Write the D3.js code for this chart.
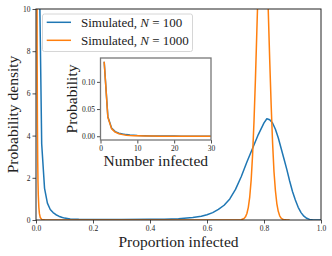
<!DOCTYPE html>
<html>
<head>
<meta charset="utf-8">
<script src="https://cdn.jsdelivr.net/npm/d3@7"></script>
<style>
  body { margin: 0; background: #fff; }
  svg { display: block; }
  text { font-family: "Liberation Serif", "DejaVu Serif", serif; fill: #222; }
</style>
</head>
<body>
<div id="chart"></div>
<script>
// ------------------------------------------------------------
// Data
// ------------------------------------------------------------
const seriesLabels = ["100", "1000"];
const seriesColors = ["#1f77b4", "#ff7f0e"];

// N = 100, proportion infected vs probability density
const blueX = [0.01, 0.02, 0.03, 0.04, 0.05, 0.06, 0.07, 0.08, 0.09, 0.10, 0.12, 0.15, 0.20, 0.30,
  0.40, 0.45, 0.50, 0.55, 0.58, 0.60, 0.62, 0.64, 0.66, 0.68, 0.70, 0.72, 0.74, 0.76, 0.78,
  0.80, 0.81, 0.82, 0.83, 0.84, 0.85, 0.86, 0.87, 0.88, 0.89, 0.90, 0.91, 0.92, 0.93, 0.94,
  0.95, 0.96, 0.97, 0.98, 1.00];
const blueY = [13.7, 3.6, 1.5, 0.8, 0.5, 0.35, 0.25, 0.18, 0.13, 0.09, 0.05, 0.03, 0.02, 0.02,
  0.03, 0.04, 0.06, 0.12, 0.18, 0.25, 0.35, 0.5, 0.7, 1.0, 1.45, 2.05, 2.75, 3.4, 4.05,
  4.6, 4.8, 4.75, 4.6, 4.3, 3.9, 3.4, 2.9, 2.4, 1.85, 1.35, 0.95, 0.6, 0.35, 0.18,
  0.08, 0.03, 0.01, 0, 0];

// N = 1000
const orangeX = [0.001, 0.002, 0.003, 0.004, 0.005, 0.006, 0.007, 0.008, 0.010, 0.012, 0.015,
  0.020, 0.030, 0.050, 0.70, 0.72, 0.73, 0.735, 0.74, 0.745, 0.75, 0.755, 0.76, 0.765, 0.77,
  0.775, 0.78, 0.785, 0.79, 0.795, 0.80, 0.805, 0.81, 0.815, 0.82, 0.825, 0.83, 0.835, 0.84,
  0.845, 0.85, 0.855, 0.86, 0.865, 0.87, 0.88, 0.89];
const orangeY = [137, 36, 15, 8, 4.5, 2.8, 1.8, 1.2, 0.6, 0.3, 0.12,
  0.03, 0.01, 0, 0, 0.01, 0.07, 0.15, 0.31, 0.6, 1.1, 1.9, 3.1, 4.7, 6.7,
  9.0, 11.3, 13.4, 14.9, 15.6, 15.3, 14.1, 12.2, 9.9, 7.6, 5.5, 3.7, 2.3, 1.4,
  0.78, 0.41, 0.2, 0.09, 0.04, 0.02, 0, 0];

// inset: number infected vs probability
const insetK = [1, 2, 3, 4, 5, 6, 7, 8, 9, 10, 12, 14, 16, 18, 20, 22, 24, 26, 28, 30];
const insetBlue = [0.137, 0.036, 0.015, 0.0085, 0.0055, 0.004, 0.003, 0.0022, 0.0017, 0.0013,
  0.0009, 0.0006, 0.0005, 0.0004, 0.0003, 0.0002, 0.0002, 0.0001, 0.0001, 0.0001];
const insetOrange = [0.137, 0.035, 0.014, 0.0075, 0.0045, 0.003, 0.002, 0.0014, 0.001, 0.0008,
  0.0005, 0.0003, 0.0002, 0.0002, 0.0001, 0.0001, 0.0001, 0, 0, 0];

const xTicks = [0, 0.2, 0.4, 0.6, 0.8, 1.0];
const yTicks = [0, 2, 4, 6, 8, 10];
const insetXTicks = [0, 10, 20, 30];
const insetYTicks = [0, 0.05, 0.10];

// ------------------------------------------------------------
// Layout
// ------------------------------------------------------------
const width = 332, height = 256;
const main = { left: 36, right: 321, top: 9, bottom: 220 };
const inset = { left: 100.5, right: 211, top: 58, bottom: 140 };

const svg = d3.select("#chart").append("svg")
  .attr("width", width).attr("height", height);

const x = d3.scaleLinear().domain([0, 1]).range([main.left, main.right]);
const y = d3.scaleLinear().domain([0, 10]).range([main.bottom, main.top]);

svg.append("clipPath").attr("id", "clipMain")
  .append("rect")
  .attr("x", main.left).attr("y", main.top)
  .attr("width", main.right - main.left).attr("height", main.bottom - main.top);

const line = d3.line().x(d => x(d[0])).y(d => y(d[1]));

const mainSeries = [d3.zip(blueX, blueY), d3.zip(orangeX, orangeY)];

svg.append("g").attr("clip-path", "url(#clipMain)")
  .selectAll("path").data(mainSeries).join("path")
  .attr("d", line)
  .attr("fill", "none")
  .attr("stroke", (d, i) => seriesColors[i])
  .attr("stroke-width", 1.5)
  .attr("stroke-linejoin", "round");

// axes
function styleAxis(g) {
  g.select(".domain").remove();
  g.selectAll(".tick line").attr("stroke", "#222").attr("stroke-width", 0.8);
  g.selectAll(".tick text").attr("font-size", 7.5).attr("fill", "#222")
    .attr("font-family", "Liberation Serif, serif");
}

svg.append("g").attr("transform", `translate(0,${main.bottom})`)
  .call(d3.axisBottom(x).tickValues(xTicks).tickFormat(d3.format(".1f")).tickSize(3.5).tickPadding(2))
  .call(styleAxis);

svg.append("g").attr("transform", `translate(${main.left},0)`)
  .call(d3.axisLeft(y).tickValues(yTicks).tickFormat(d3.format("d")).tickSize(3.5).tickPadding(2))
  .call(styleAxis);

svg.append("rect")
  .attr("x", main.left).attr("y", main.top)
  .attr("width", main.right - main.left).attr("height", main.bottom - main.top)
  .attr("fill", "none").attr("stroke", "#222").attr("stroke-width", 1);

svg.append("text")
  .attr("x", (main.left + main.right) / 2).attr("y", 247)
  .attr("text-anchor", "middle").attr("font-size", 15.5)
  .text("Proportion infected");

svg.append("text")
  .attr("transform", `translate(18,${(main.top + main.bottom) / 2}) rotate(-90)`)
  .attr("text-anchor", "middle").attr("font-size", 15.5)
  .text("Probability density");

// ------------------------------------------------------------
// Legend
// ------------------------------------------------------------
const legend = svg.append("g");
legend.append("rect")
  .attr("x", 42.5).attr("y", 14).attr("width", 150).attr("height", 37.5)
  .attr("rx", 2).attr("fill", "#fff").attr("fill-opacity", 0.8)
  .attr("stroke", "#ccc").attr("stroke-width", 0.8);

const rows = legend.selectAll("g.row").data(seriesLabels).join("g")
  .attr("class", "row")
  .attr("transform", (d, i) => `translate(0,${22.3 + i * 18})`);

rows.append("line")
  .attr("x1", 46.7).attr("x2", 71)
  .attr("stroke", (d, i) => seriesColors[i]).attr("stroke-width", 1.5);

rows.append("text")
  .attr("x", 81).attr("y", 4.2).attr("font-size", 13)
  .each(function(d) {
    const t = d3.select(this);
    t.append("tspan").text("Simulated, ");
    t.append("tspan").attr("font-style", "italic").text("N");
    t.append("tspan").text(" = " + d);
  });

// ------------------------------------------------------------
// Inset
// ------------------------------------------------------------
const ix = d3.scaleLinear().domain([0, 30]).range([inset.left, inset.right]);
const iy = d3.scaleLinear().domain([-0.0069, 0.1439]).range([inset.bottom, inset.top]);

svg.append("rect")
  .attr("x", inset.left).attr("y", inset.top)
  .attr("width", inset.right - inset.left).attr("height", inset.bottom - inset.top)
  .attr("fill", "#fff");

const iline = d3.line().x(d => ix(d[0])).y(d => iy(d[1]));
svg.append("g")
  .selectAll("path").data([d3.zip(insetK, insetBlue), d3.zip(insetK, insetOrange)]).join("path")
  .attr("d", iline)
  .attr("fill", "none")
  .attr("stroke", (d, i) => seriesColors[i])
  .attr("stroke-width", 1.5)
  .attr("stroke-linejoin", "round");

svg.append("g").attr("transform", `translate(0,${inset.bottom})`)
  .call(d3.axisBottom(ix).tickValues(insetXTicks).tickFormat(d3.format("d")).tickSize(3.5).tickPadding(2))
  .call(styleAxis);

svg.append("g").attr("transform", `translate(${inset.left},0)`)
  .call(d3.axisLeft(iy).tickValues(insetYTicks).tickFormat(d3.format(".2f")).tickSize(3.5).tickPadding(2))
  .call(styleAxis);

svg.append("rect")
  .attr("x", inset.left).attr("y", inset.top)
  .attr("width", inset.right - inset.left).attr("height", inset.bottom - inset.top)
  .attr("fill", "none").attr("stroke", "#777").attr("stroke-width", 1.3);

svg.append("text")
  .attr("x", (inset.left + inset.right) / 2).attr("y", 166)
  .attr("text-anchor", "middle").attr("font-size", 15.5)
  .text("Number infected");

svg.append("text")
  .attr("transform", `translate(77,${(inset.top + inset.bottom) / 2}) rotate(-90)`)
  .attr("text-anchor", "middle").attr("font-size", 15.5)
  .text("Probability");
</script>
</body>
</html>
